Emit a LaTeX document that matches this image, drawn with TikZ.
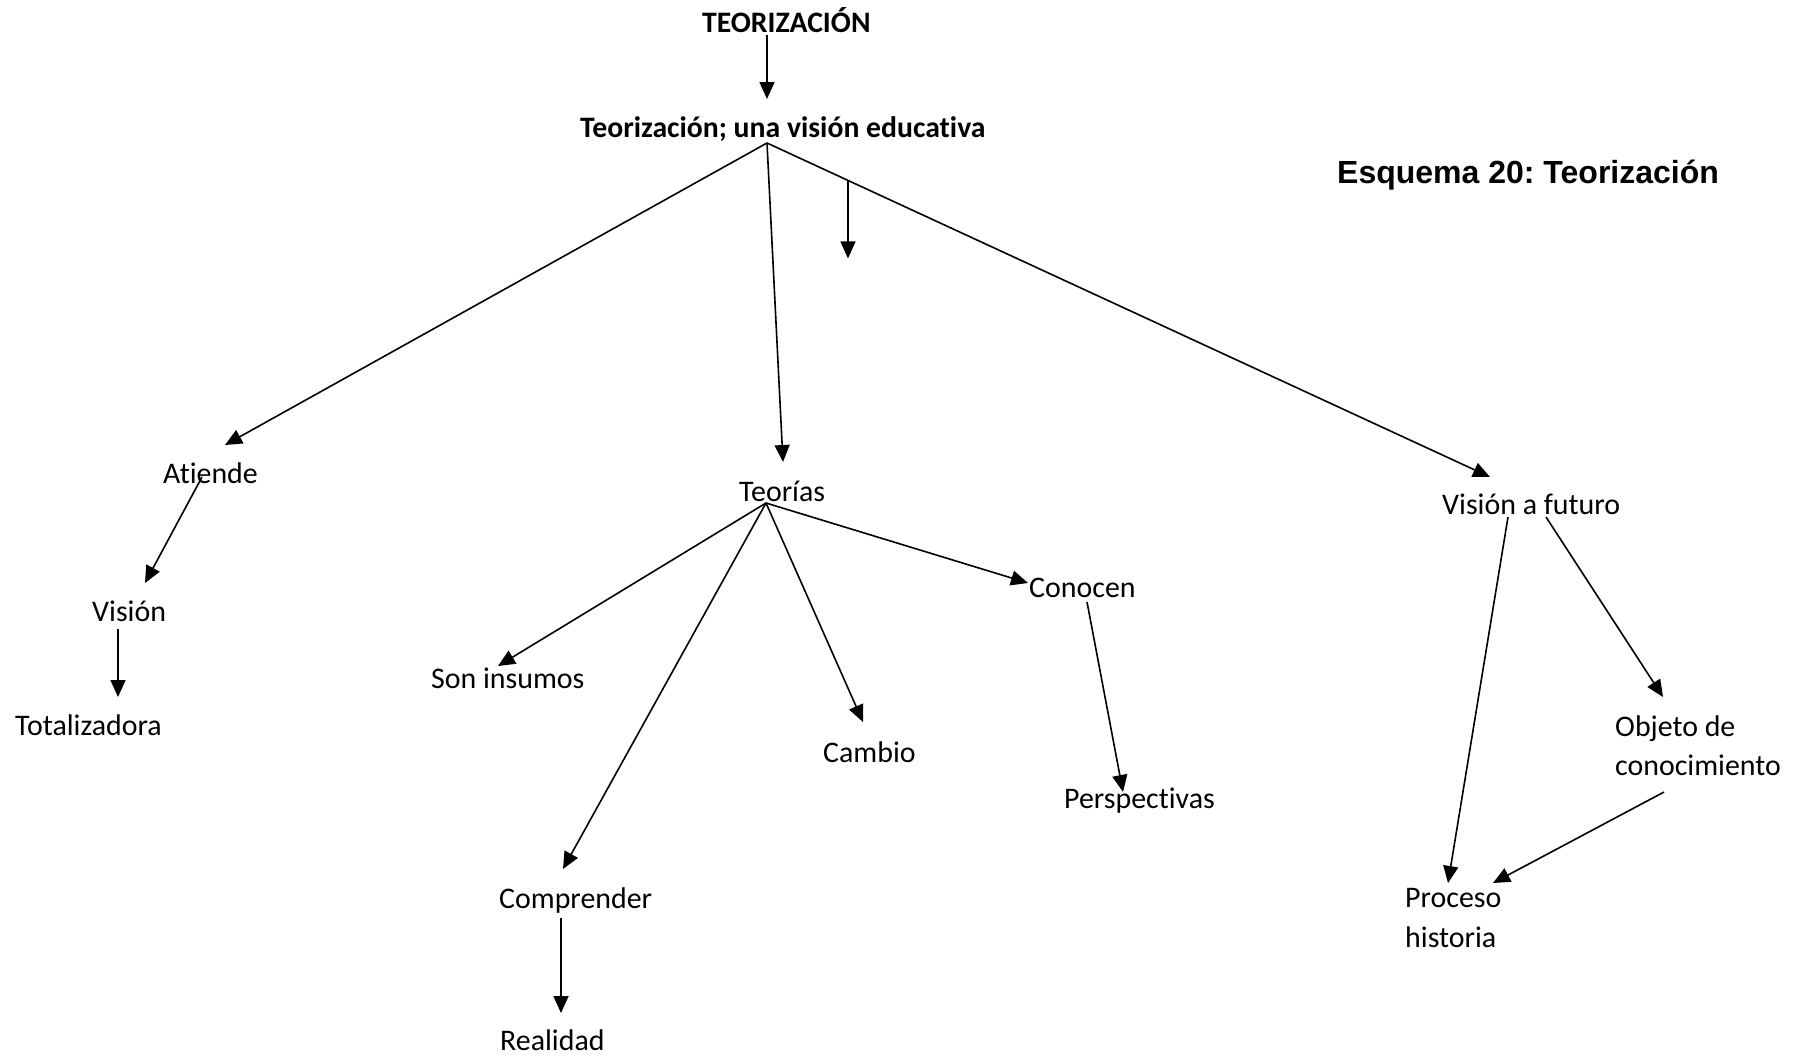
\documentclass[tikz,border=0pt]{standalone}
\usepackage{fontspec}
\setmainfont{Carlito}[Ligatures={NoCommon}]
\newfontfamily\titlefont{Liberation Sans}
\usetikzlibrary{arrows.meta}
\frenchspacing
\begin{document}
\begin{tikzpicture}[x=1pt,y=-1pt,
  lbl/.style={inner sep=0pt,anchor=base west,font=\fontsize{29.9}{35}\selectfont},
  blbl/.style={lbl,font=\fontsize{29.7}{35}\selectfont\bfseries},
  arr/.style={line width=1.6pt,-{Triangle[length=17pt,width=15pt]}},
  ln/.style={line width=1.6pt}]
\useasboundingbox (0,0) rectangle (1804,1058);
% nodes
\node[blbl] (t1) at (702,32) {TEORIZACIÓN};
\node[blbl] (t2) at (580,137) {Teorización; una visión educativa};
\node[lbl,font=\titlefont\fontsize{32}{36}\selectfont\bfseries] (title) at (1337,183) {Esquema 20: Teorización};
\node[lbl] (atiende) at (163,483) {Atiende};
\node[lbl] (vision) at (92,621) {Visión};
\node[lbl] (total) at (15,735) {Totalizadora};
\node[lbl] (teorias) at (739,501) {Teorías};
\node[lbl] (son) at (431,688) {Son insumos};
\node[lbl] (comp) at (499,908) {Comprender};
\node[lbl] (real) at (500,1050) {Realidad};
\node[lbl] (cambio) at (823,762) {Cambio};
\node[lbl] (conocen) at (1029,597) {Conocen};
\node[lbl] (persp) at (1064,808) {Perspectivas};
\node[lbl] (vf) at (1442,514) {Visión a futuro};
\node[lbl] (obj1) at (1615,736) {Objeto de};
\node[lbl] (obj2) at (1615,775) {conocimiento};
\node[lbl] (proc1) at (1405,907) {Proceso};
\node[lbl] (proc2) at (1405,947) {historia};
% connectors
\coordinate (j) at ([shift={(187,6)}]t2.base west);
\draw[arr] ([shift={(65,3)}]t1.base west) -- ([shift={(187,-38)}]t2.base west);
\draw[arr] (j) -- ([shift={(62,-38)}]atiende.base west);
\draw[arr] (j) -- ([shift={(44,-39)}]teorias.base west);
\draw[arr] (j) -- ([shift={(48,-37)}]vf.base west) coordinate[pos=0.112] (mid);
\draw[arr] (mid) -- ++(0,78);
\draw[arr] ([shift={(39,-6)}]atiende.base west) -- ([shift={(53,-38)}]vision.base west);
\draw[arr] ([shift={(26,8)}]vision.base west) -- ([shift={(103,-38)}]total.base west);
\coordinate (ts) at ([shift={(27,2)}]teorias.base west);
\draw[arr] (ts) -- ([shift={(67,-22)}]son.base west);
\draw[arr] (ts) -- ([shift={(64,-39)}]comp.base west);
\draw[arr] (ts) -- ([shift={(40,-40)}]cambio.base west);
\draw[arr] (ts) -- ([shift={(-1,-14)}]conocen.base west);
\draw[arr] ([shift={(58,5)}]conocen.base west) -- ([shift={(59,-16)}]persp.base west);
\draw[arr] ([shift={(62,10)}]comp.base west) -- ([shift={(61,-37)}]real.base west);
\draw[arr] ([shift={(66,3)}]vf.base west) -- ([shift={(43,-24)}]proc1.base west);
\draw[arr] ([shift={(104,3)}]vf.base west) -- ([shift={(48,-39)}]obj1.base west);
\draw[arr] ([shift={(49,17)}]obj2.base west) -- ([shift={(88,-24)}]proc1.base west);
\end{tikzpicture}
\end{document}
